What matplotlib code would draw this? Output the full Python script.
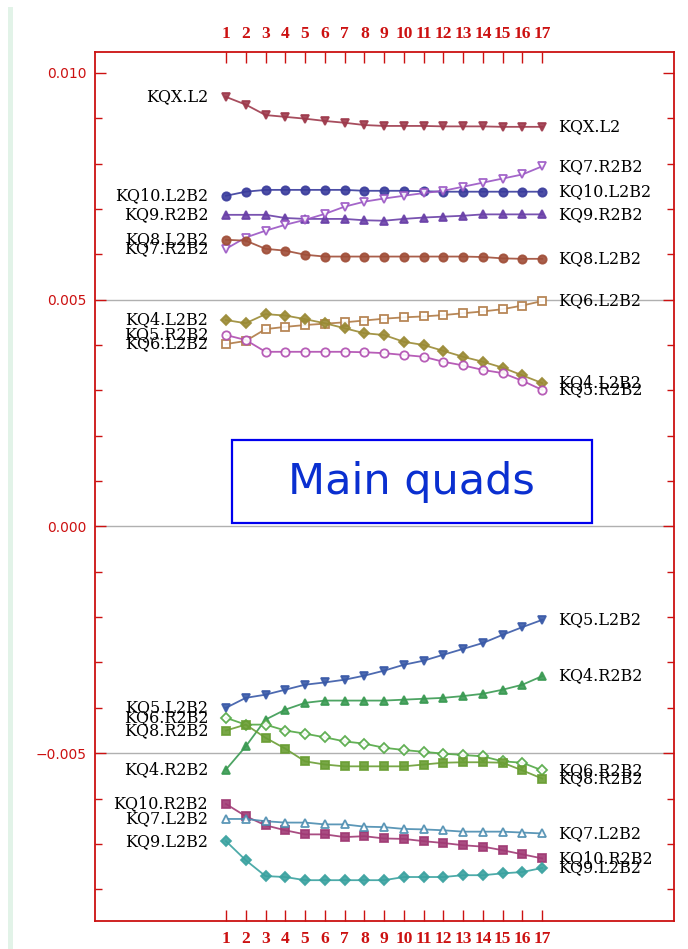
import numpy as np
import matplotlib
matplotlib.use("Agg")
import matplotlib.pyplot as plt
from matplotlib.patches import Rectangle

# element index along the x axis
idx = np.arange(1, 18)

# upper group (positive strengths)
kqx_l2 = [0.00947, 0.00930, 0.00907, 0.00903, 0.00899, 0.00894, 0.00890, 0.00885, 0.00883,
          0.00883, 0.00883, 0.00882, 0.00882, 0.00882, 0.00881, 0.00881, 0.00881]
kq10_l2b2 = [0.00729, 0.00738, 0.00742, 0.00742, 0.00742, 0.00742, 0.00742, 0.00740, 0.00740,
             0.00740, 0.00739, 0.00738, 0.00738, 0.00738, 0.00738, 0.00738, 0.00738]
kq9_r2b2 = [0.00687, 0.00687, 0.00687, 0.00680, 0.00678, 0.00678, 0.00678, 0.00675, 0.00674,
            0.00678, 0.00681, 0.00683, 0.00685, 0.00688, 0.00688, 0.00688, 0.00688]
kq7_r2b2 = [0.00612, 0.00637, 0.00652, 0.00665, 0.00676, 0.00689, 0.00705, 0.00716, 0.00723,
            0.00729, 0.00735, 0.00740, 0.00749, 0.00758, 0.00767, 0.00776, 0.00794]
kq8_l2b2 = [0.00632, 0.00630, 0.00612, 0.00608, 0.00599, 0.00595, 0.00595, 0.00595, 0.00595,
            0.00595, 0.00595, 0.00595, 0.00595, 0.00594, 0.00591, 0.00590, 0.00590]
kq6_l2b2 = [0.00402, 0.00409, 0.00435, 0.00440, 0.00444, 0.00447, 0.00450, 0.00454, 0.00458,
            0.00461, 0.00463, 0.00466, 0.00470, 0.00474, 0.00479, 0.00487, 0.00497]
kq4_l2b2 = [0.00455, 0.00448, 0.00468, 0.00465, 0.00457, 0.00448, 0.00437, 0.00426, 0.00422,
            0.00407, 0.00400, 0.00387, 0.00374, 0.00363, 0.00350, 0.00333, 0.00316]
kq5_r2b2 = [0.00422, 0.00411, 0.00385, 0.00385, 0.00385, 0.00385, 0.00385, 0.00384, 0.00382,
            0.00378, 0.00374, 0.00363, 0.00355, 0.00345, 0.00338, 0.00321, 0.00301]

# lower group (negative strengths)
kq5_l2b2 = [-0.00400, -0.00378, -0.00371, -0.00360, -0.00349, -0.00344, -0.00338, -0.00329, -0.00318,
            -0.00305, -0.00296, -0.00283, -0.00270, -0.00257, -0.00239, -0.00222, -0.00206]
kq4_r2b2 = [-0.00536, -0.00485, -0.00426, -0.00404, -0.00389, -0.00384, -0.00384, -0.00384, -0.00384,
            -0.00382, -0.00380, -0.00378, -0.00374, -0.00369, -0.00360, -0.00349, -0.00330]
kq6_r2b2 = [-0.00422, -0.00437, -0.00437, -0.00450, -0.00457, -0.00465, -0.00474, -0.00479, -0.00488,
            -0.00493, -0.00497, -0.00501, -0.00504, -0.00507, -0.00518, -0.00521, -0.00538]
kq8_r2b2 = [-0.00450, -0.00437, -0.00466, -0.00490, -0.00518, -0.00525, -0.00529, -0.00529, -0.00529,
            -0.00529, -0.00525, -0.00521, -0.00520, -0.00520, -0.00521, -0.00538, -0.00556]
kq10_r2b2 = [-0.00612, -0.00639, -0.00659, -0.00670, -0.00679, -0.00679, -0.00685, -0.00683, -0.00688,
             -0.00689, -0.00694, -0.00698, -0.00703, -0.00706, -0.00714, -0.00723, -0.00732]
kq7_l2b2 = [-0.00645, -0.00645, -0.00650, -0.00653, -0.00653, -0.00657, -0.00657, -0.00662, -0.00663,
            -0.00667, -0.00668, -0.00670, -0.00673, -0.00673, -0.00673, -0.00675, -0.00677]
kq9_l2b2 = [-0.00694, -0.00736, -0.00771, -0.00773, -0.00780, -0.00780, -0.00780, -0.00780, -0.00780,
            -0.00773, -0.00773, -0.00773, -0.00769, -0.00769, -0.00765, -0.00762, -0.00753]

# name, values, colour, marker, filled
series = [
    ("KQX.L2", kqx_l2, "#9e3a4c", "v", True),
    ("KQ10.L2B2", kq10_l2b2, "#3a3c9c", "o", True),
    ("KQ9.R2B2", kq9_r2b2, "#6a40a8", "^", True),
    ("KQ7.R2B2", kq7_r2b2, "#9a55c4", "v", False),
    ("KQ8.L2B2", kq8_l2b2, "#a04e38", "o", True),
    ("KQ6.L2B2", kq6_l2b2, "#b07a45", "s", False),
    ("KQ4.L2B2", kq4_l2b2, "#9a8a34", "D", True),
    ("KQ5.R2B2", kq5_r2b2, "#b04cb0", "o", False),
    ("KQ5.L2B2", kq5_l2b2, "#3a5aa8", "v", True),
    ("KQ4.R2B2", kq4_r2b2, "#3a9a52", "^", True),
    ("KQ6.R2B2", kq6_r2b2, "#52a844", "D", False),
    ("KQ8.R2B2", kq8_r2b2, "#6a9e34", "s", True),
    ("KQ10.R2B2", kq10_r2b2, "#a03a74", "s", True),
    ("KQ7.L2B2", kq7_l2b2, "#4a8cb0", "^", False),
    ("KQ9.L2B2", kq9_l2b2, "#3aa2a0", "D", True),
]

red = "#cc1111"
fig = plt.figure(figsize=(6.88, 9.49), dpi=100)
ax = fig.add_axes([0.138, 0.0295, 0.842, 0.9157])

# faint page edge on the left
fig.add_artist(Rectangle((0.011, 0.0), 0.008, 0.993, transform=fig.transFigure,
                         facecolor="#e2f3e8", edgecolor="none"))

for y in (0.005, 0.0, -0.005):
    ax.axhline(y, color="#b0b0b0", lw=1.0, zorder=0)

lab_font = dict(family="DejaVu Serif", fontsize=11.5, color="black")
for name, vals, col, mk, filled in series:
    ms = 6 if mk in "vo^s" else 5.5
    ax.plot(idx, vals, color=col, lw=1.3, alpha=0.9, marker=mk, ms=ms,
            mfc=col if filled else "white", mec=col, mew=1.3, zorder=3)
    ax.text(idx[0] - 0.9, vals[0], name, ha="right", va="center", **lab_font)
    ax.text(idx[-1] + 0.8, vals[-1], name, ha="left", va="center", **lab_font)

ax.set_xlim(-5.63, 23.68)
ax.set_ylim(-0.0087, 0.01046)

ax.set_xticks(idx)
ax.set_xticklabels([str(i) for i in idx], family="Liberation Serif",
                   fontweight="bold", fontsize=12.5, color=red)
ax.tick_params(axis="x", which="both", direction="in", length=8, width=1,
               color=red, top=True, bottom=True, labeltop=True, labelbottom=True, pad=7)

ax.set_yticks([0.010, 0.005, 0.0, -0.005])
ax.set_yticklabels(["0.010", "0.005", "0.000", "\u22120.005"], fontsize=10, color=red)
ax.set_yticks(np.arange(-0.008, 0.0101, 0.001), minor=True)
ax.tick_params(axis="y", which="major", direction="in", length=8, width=1,
               color=red, left=True, right=True, pad=6)
ax.tick_params(axis="y", which="minor", direction="in", length=5, width=1,
               color=red, left=True, right=True)

for sp in ax.spines.values():
    sp.set_color(red)
    sp.set_linewidth(1.3)

# title box in the middle of the plot
ax.add_patch(Rectangle((0.2366, 0.458), 0.6214, 0.0955, transform=ax.transAxes,
                       facecolor="white", edgecolor="#0000ee", lw=1.6, zorder=4))
ax.text(0.547, 0.505, "Main quads", transform=ax.transAxes, ha="center", va="center",
        fontsize=31, color="#0a2fd0", zorder=5)

fig.savefig("out.png", dpi=100)
